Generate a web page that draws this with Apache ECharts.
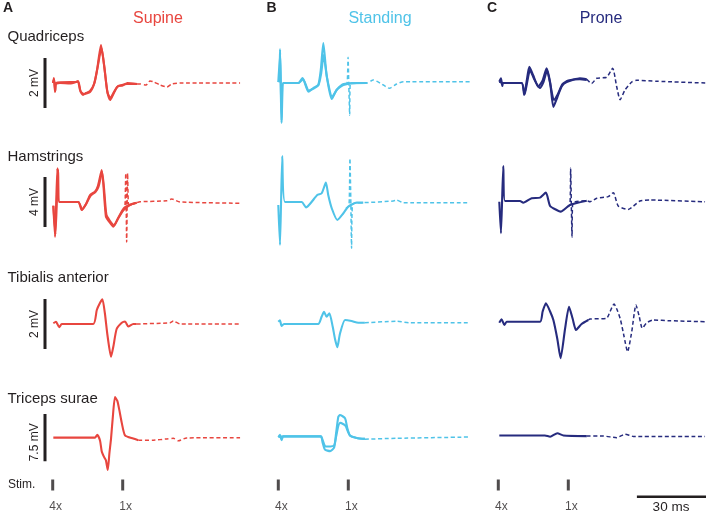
<!DOCTYPE html>
<html><head><meta charset="utf-8">
<script src="https://cdn.jsdelivr.net/npm/echarts@6/dist/echarts.min.js"></script>
<style>html,body{margin:0;padding:0;background:#fff}#c{width:706px;height:513px}</style>
</head><body><div id="c"></div>
<script>
// ---------- labels ----------
const panelLetters = ['A', 'B', 'C'];
const conditions = ['Supine', 'Standing', 'Prone'];
const muscles = ['Quadriceps', 'Hamstrings', 'Tibialis anterior', 'Triceps surae'];
const scaleBarMV = [2, 4, 2, 7.5];
const scaleBarLabels = ['2 mV', '4 mV', '2 mV', '7.5 mV'];
const stimTimes = [0, 30];           // ms
const stimLabels = ['4x', '1x'];
const timeBarMs = 30;
const timeBarLabel = '30 ms';

// ---------- traces: [time ms, mV] ----------
// Supine (A)
const quadA = [[0.1,0],[0.5,0.2],[1.0,-0.36],[1.4,-0.04],[3.1,0],[7.4,-0.02],[10,0.04],[10.8,0.08],[11.7,-0.28],[13,-0.48],[14.3,-0.4],[16,-0.32],[17.7,-0.04],[19,0.52],[20.7,1.52],[22,0.72],[23.3,-0.28],[24.6,-0.68],[25.8,-0.48],[27.6,-0.16],[29.7,-0.08],[31.8,-0.04],[36.2,-0.04]];
const quadA2 = [[0.1,0],[0.6,0.15],[1.1,-0.3],[1.5,0],[10,0.04],[11,0.06],[12,-0.35],[13.4,-0.44],[16,-0.36],[17.9,0],[19.2,0.6],[20.9,1.4],[22.2,0.6],[23.5,-0.4],[24.8,-0.6],[26,-0.4],[28,-0.12],[30,-0.1],[32,0],[36.2,-0.04]];
const quadADash = [[36.2,-0.04],[37.4,-0.04],[40,-0.08],[41.7,0.08],[43.4,0.04],[46,-0.08],[49,-0.16],[51,-0.04],[54.7,0],[80.3,0]];
const hamA = [[0.27,-0.3],[1.0,-2.8],[2.0,2.7],[2.8,0],[11,0],[12.4,-0.64],[14.3,-0.16],[16,0.56],[18.1,0.83],[19.4,1.3],[21,2.56],[22.8,-1.17],[24.2,-1.57],[26,-1.97],[27.7,-1.44],[30.3,-0.64],[33.1,-0.24],[36,-0.06]];
const hamA2 = [[0.27,-0.3],[1.2,-2.6],[2.3,2.6],[3.0,0],[11,0],[12.6,-0.6],[14.5,-0.1],[16.2,0.5],[18.3,0.8],[19.6,1.2],[21.2,2.4],[23,-1.0],[24.5,-1.5],[26.3,-1.85],[28,-1.3],[30.5,-0.5],[33.3,-0.2],[36,-0.06]];
const hamADash = [[30,-0.7],[30.9,-0.55],[31.3,2.3],[31.7,-3.2],[32.1,2.3],[32.5,-0.3],[33.1,-0.24],[36,-0.06],[37.4,0.02],[48.9,0.1],[51,0.24],[54.6,0],[80.3,-0.1]];
const tibA = [[0.27,0.03],[1.4,0.09],[2.8,-0.13],[3.9,0],[17.4,0],[18.9,0.56],[20.3,0.85],[21.3,0.99],[22.4,0.4],[23.4,-0.4],[25,-1.31],[26,-0.9],[27.4,-0.2],[29.6,0.05],[31,0.1],[32.4,-0.1],[34.5,0],[36,0]];
const tibADash = [[36,0],[50.3,0.05],[51.7,0.12],[54.6,0],[80.3,0]];
const triA = [[0.27,0],[18.1,0],[19.1,0.45],[20.3,-0.5],[21,-2.15],[22.1,-3.15],[22.8,-3.6],[23.6,-5.15],[24.3,-2.5],[25,-0.15],[25.7,3],[26.7,6.45],[27.7,5.85],[28.5,4.5],[29.6,2.35],[31,0.35],[34.5,-0.15],[36.7,-0.4]];
const triADash = [[36.7,-0.4],[43.1,-0.4],[48.9,-0.2],[51.7,-0.1],[53.8,-0.5],[57.4,-0.05],[80.3,0]];

// Standing (B)
const quadB = [[0,0.04],[0.5,0.1],[0.75,1.36],[1.1,-0.5],[1.4,-1.6],[1.8,-0.3],[2.1,0],[8.6,0],[10.4,0.2],[12.9,-0.35],[15,-0.2],[17.1,-0.08],[18.2,0.52],[19.3,1.6],[20.7,0.32],[22.9,-0.64],[25,-0.28],[27.9,-0.08],[33.6,0],[37.9,0]];
const quadB2 = [[0,0.04],[0.8,1.2],[1.4,-1.5],[2.1,0],[8.6,0],[10.6,0.15],[13.1,-0.3],[17.1,-0.1],[18.4,0.4],[19.4,1.12],[20.9,0.2],[23.1,-0.55],[25.2,-0.25],[28,-0.04],[37.9,0]];
const quadBDash = [[28.5,-0.05],[29.5,0],[29.9,1.03],[30.2,0],[30.6,-1.28],[30.9,0],[33.6,0],[37.9,0],[40.7,0.12],[43.6,0],[47.6,-0.21],[50.7,-0.04],[53.6,0.05],[82.1,0.05]];
const hamB = [[0,-0.24],[0.73,-3.44],[1.7,3.68],[2.9,0],[10,0],[11.9,-0.43],[16.7,0.56],[18.6,0.7],[20.4,1.55],[21.4,0.56],[22.9,-0.5],[25.3,-1.44],[27.9,-0.9],[30,-0.37],[33.6,-0.05],[36.4,-0.05]];
const hamBDash = [[29,-0.5],[30.3,-0.3],[30.7,3.5],[31.1,-0.2],[31.4,-3.7],[31.8,-0.2],[33.6,-0.05],[36.4,-0.05],[49.3,0.08],[50.7,0.15],[53.6,-0.05],[82.1,-0.05]];
const tibB = [[0,0.09],[0.7,0.15],[1.4,-0.08],[2.4,0],[17.1,0],[18.6,0.3],[19.6,0.49],[20.7,0.29],[21.9,0.43],[23.3,-0.1],[24.3,-0.6],[25.3,-0.93],[26.4,-0.4],[28.6,0.16],[31.4,0.12],[34.3,0.05],[37.1,0.05]];
const tibBDash = [[37.1,0.05],[50.7,0.11],[56.4,0.05],[82.1,0.05]];
const triB = [[0,0.1],[0.7,0.45],[1.4,-0.4],[2.1,0.2],[18.2,0.2],[19,-0.8],[20,-1.9],[22.2,-2.15],[23.9,-1.6],[24.7,0.5],[25.7,3.3],[26.4,3.6],[28.6,3.1],[29.6,1.5],[30.7,0.35],[33.6,-0.05],[37.1,-0.2]];
const triB2 = [[0,0.1],[2.1,0.2],[18.2,0.2],[19.2,-0.6],[20.2,-1.4],[22.4,-1.4],[24,-1.2],[24.8,0.2],[25.8,2.0],[26.6,2.35],[28.8,1.9],[29.8,1.0],[30.8,0.3],[33.6,-0.05],[37.1,-0.2]];
const triBDash = [[37.1,-0.25],[50.7,-0.1],[82.1,0.1]];

// Prone (C)
const quadC = [[0.43,0.05],[1.14,0.19],[1.7,-0.12],[2.1,0],[10,0],[11.1,-0.48],[12.2,0.1],[13.3,0.65],[15,0.3],[17.1,-0.15],[19,0.1],[20.7,0.59],[22.2,0.03],[23.6,-0.96],[25.3,-0.57],[27.2,-0.13],[29.3,0.04],[35,0.19],[37.9,0.15]];
const quadC2 = [[0.43,0.05],[2.1,0],[10,0],[11.3,-0.45],[12.4,0.05],[13.6,0.52],[15.4,0.15],[17.8,-0.2],[19.4,0.05],[20.9,0.5],[22.4,-0.1],[23.8,-0.68],[25.5,-0.45],[27.5,-0.05],[30,0.1],[35,0.15],[37.9,0.12]];
const quadCDash = [[37.9,0.15],[40,-0.02],[42.2,0.19],[46.4,0.23],[49,0.59],[50.7,-0.13],[52.2,-0.67],[54.3,-0.28],[57.2,0.04],[59.3,0.11],[67.9,0.07],[88.7,0]];
const hamC = [[0.43,0.02],[1.14,-2.5],[2.14,2.88],[2.86,0.08],[9.3,0.08],[10.7,-0.06],[14.3,0.3],[17.9,0.35],[20.4,0.75],[22.2,-0.32],[25,-0.64],[26.7,-0.77],[30.7,-0.24],[37.9,0.1]];
const hamCDash = [[29.5,-0.4],[30.7,-0.24],[31,2.7],[31.3,-0.2],[31.6,-2.8],[31.9,-0.1],[37.9,0.1],[39.3,0.02],[42.2,0.3],[47.1,0.43],[49.3,0.75],[51.4,-0.32],[55.7,-0.59],[60.7,0.08],[65,0.16],[88.6,0.02]];
const tibC = [[0.43,0.05],[1.43,0.19],[2.6,-0.04],[3.6,0.09],[17.9,0.09],[19,0.5],[20.4,0.83],[22.2,0.5],[23.6,0.16],[25.3,-0.6],[26.7,-1.37],[28.6,-0.2],[30.3,0.69],[31.9,0.2],[33.3,-0.24],[35.7,0],[38.6,0.16]];
const tibCDash = [[38.6,0.16],[39.3,0.2],[46.4,0.23],[47.9,0.5],[49.6,0.8],[51,0.55],[52.4,0.16],[53.9,-0.5],[55.4,-1.11],[57.2,-0.3],[59,0.76],[60.4,0.3],[61.7,-0.17],[63.6,0.05],[66.4,0.16],[73.6,0.13],[88.6,0.09]];
const triC = [[0.43,0.35],[20,0.35],[22.2,0.15],[25.3,0.7],[27.9,0.35],[37.9,0.25]];
const triCDash = [[37.9,0.25],[45,0.25],[50.7,0],[54.3,0.55],[57.9,0.2],[88.6,0.2]];

// ---------- layout ----------
const colors = ['#e8463f', '#4fc3e8', '#262b7e'];
const ink = '#231f20';
const FONT = 'Liberation Sans, Arial, Helvetica, sans-serif';
const PPM = 70 / 30;                 // px per ms
const X_MIN = -4, X_MAX = 88;
const colStart = [52.7, 278.3, 498.3];
const rowCenter = [83, 202, 324, 442.3];
const rowHalf = [3.2, 6.4, 3.2, 12];
const GRID_H = 160;

const panels = [
  [{s:[quadA, quadA2], d:quadADash}, {s:[hamA, hamA2], d:hamADash}, {s:[tibA], d:tibADash}, {s:[triA], d:triADash}],
  [{s:[quadB, quadB2], d:quadBDash}, {s:[hamB], d:hamBDash}, {s:[tibB], d:tibBDash}, {s:[triB, triB2], d:triBDash}],
  [{s:[quadC, quadC2], d:quadCDash}, {s:[hamC], d:hamCDash}, {s:[tibC], d:tibCDash}, {s:[triC], d:triCDash}]
];

const grid = [], xAxis = [], yAxis = [], series = [];
for (let c = 0; c < 3; c++) {
  for (let r = 0; r < 4; r++) {
    const gi = grid.length;
    grid.push({left: colStart[c] + X_MIN * PPM, width: (X_MAX - X_MIN) * PPM,
               top: rowCenter[r] - GRID_H / 2, height: GRID_H});
    xAxis.push({type: 'value', gridIndex: gi, min: X_MIN, max: X_MAX, show: false});
    yAxis.push({type: 'value', gridIndex: gi, min: -rowHalf[r], max: rowHalf[r], show: false});
    const p = panels[c][r];
    series.push({type: 'line', xAxisIndex: gi, yAxisIndex: gi, data: p.d, showSymbol: false,
      clip: false, smooth: 0.2, z: 2,
      lineStyle: {color: colors[c], width: 1.5, type: [4, 2.6]}});
    p.s.forEach(tr => series.push({type: 'line', xAxisIndex: gi, yAxisIndex: gi, data: tr,
      showSymbol: false, clip: false, smooth: 0.2, z: 3,
      lineStyle: {color: colors[c], width: 2.1}}));
    if (c === 0) {
      const v = scaleBarMV[r] / 2;
      series.push({type: 'line', xAxisIndex: gi, yAxisIndex: gi, data: [[-3.3, -v], [-3.3, v]],
        showSymbol: false, clip: false, z: 3, lineStyle: {color: ink, width: 3, cap: 'butt'}});
    }
  }
}
// stim rows
for (let c = 0; c < 3; c++) {
  const gi = grid.length;
  grid.push({left: colStart[c] + X_MIN * PPM, width: (X_MAX - X_MIN) * PPM, top: 470, height: 40});
  xAxis.push({type: 'value', gridIndex: gi, min: X_MIN, max: X_MAX, show: false});
  yAxis.push({type: 'value', gridIndex: gi, min: 0, max: 1, show: false});
  series.push({type: 'scatter', xAxisIndex: gi, yAxisIndex: gi, symbol: 'rect', symbolSize: [3, 11],
    itemStyle: {color: ink}, z: 3,
    data: stimTimes.map((t, i) => ({value: [t, 0.625], name: stimLabels[i]})),
    label: {show: true, position: 'bottom', distance: 10, offset: [3, 0], formatter: '{b}',
      color: ink, fontSize: 12, fontFamily: FONT}});
  if (c === 2) {
    series.push({type: 'line', xAxisIndex: gi, yAxisIndex: gi, showSymbol: false, clip: false,
      data: [[59.4, 0.33], [59.4 + timeBarMs, 0.33]], lineStyle: {color: ink, width: 2.5, cap: 'butt'}});
  }
}

const graphic = [];
const txt = (x, y, text, style) => graphic.push({type: 'text', x, y, style: Object.assign({text, fontFamily: FONT, fill: ink}, style)});
const letterX = [3, 266.5, 487];
const condX = [158, 380, 601];
for (let c = 0; c < 3; c++) {
  txt(letterX[c], 8, panelLetters[c], {fontSize: 14, fontWeight: 'bold', textAlign: 'left', textVerticalAlign: 'middle'});
  txt(condX[c], 19, conditions[c], {fontSize: 16, fill: colors[c], textAlign: 'center', textVerticalAlign: 'middle'});
}
const muscleY = [37, 157, 278, 399];
muscles.forEach((m, r) => txt(7.5, muscleY[r], m, {fontSize: 15, textAlign: 'left', textVerticalAlign: 'middle'}));
scaleBarLabels.forEach((l, r) => graphic.push({type: 'text', x: 35, y: rowCenter[r], rotation: Math.PI / 2,
  style: {text: l, fontFamily: FONT, fill: ink, fontSize: 12, textAlign: 'center', textVerticalAlign: 'middle'}}));
txt(8, 485, 'Stim.', {fontSize: 12, textAlign: 'left', textVerticalAlign: 'middle'});
txt(671, 507, timeBarLabel, {fontSize: 13.5, textAlign: 'center', textVerticalAlign: 'middle'});

const chart = echarts.init(document.getElementById('c'), null, {renderer: 'canvas'});
chart.setOption({animation: false, backgroundColor: '#fff', grid, xAxis, yAxis, series, graphic});
</script></body></html>
